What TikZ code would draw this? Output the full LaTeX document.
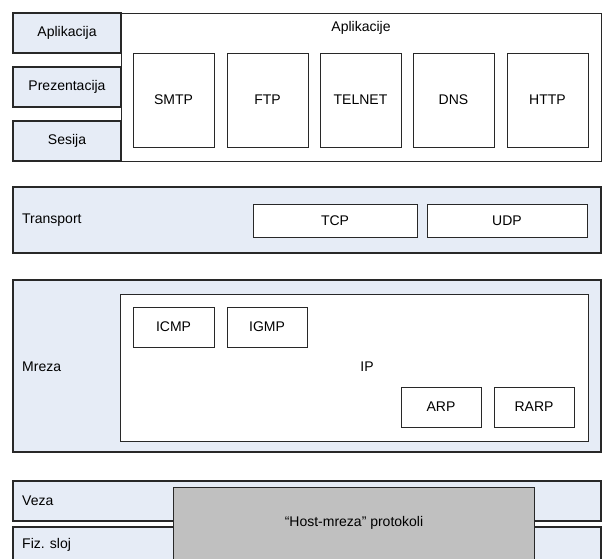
\documentclass[tikz,border=0pt]{standalone}
\usepackage{fontspec}
\setmainfont{Liberation Sans}
\definecolor{layerblue}{RGB}{230,236,246}
\definecolor{hostgray}{RGB}{192,192,192}
\definecolor{edge}{RGB}{40,40,40}
\begin{document}
\begin{tikzpicture}[x=1pt,y=-1pt,
  font=\fontsize{14}{16}\selectfont,
  boxbase/.style={rectangle, inner sep=0pt, outer sep=0pt, anchor=north west},
  layer/.style={boxbase, draw=edge, fill=layerblue, line width=1.1pt},
  group/.style={boxbase, draw=edge, fill=white, line width=1pt},
  proto/.style={boxbase, draw=edge, fill=white, line width=0.9pt},
  hostbox/.style={boxbase, draw=edge, fill=hostgray, line width=1pt},
  lbl/.style={anchor=west, inner sep=0pt}]
\useasboundingbox (0,0) rectangle (606,558);
\clip (0,0) rectangle (606,558);
% Application layers
\node[layer, minimum width=108pt, minimum height=40pt] (apl) at (13,13) {Aplikacija};
\node[layer, minimum width=108pt, minimum height=40pt] (pre) at (13,67) {Prezentacija};
\node[layer, minimum width=108pt, minimum height=40pt] (ses) at (13,121) {Sesija};
\node[group, minimum width=480pt, minimum height=148pt] (appgrp) at (121,13) {};
\node[inner sep=0pt] (apptitle) at (361,28) {Aplikacije};
\node[proto, minimum width=81pt, minimum height=94pt] (smtp) at (133,53) {SMTP};
\node[proto, minimum width=81pt, minimum height=94pt] (ftp) at (227,53) {FTP};
\node[proto, minimum width=81pt, minimum height=94pt] (telnet) at (320,53) {TELNET};
\node[proto, minimum width=81pt, minimum height=94pt] (dns) at (413,53) {DNS};
\node[proto, minimum width=81pt, minimum height=94pt] (http) at (507,53) {HTTP};
% Transport
\node[layer, minimum width=588pt, minimum height=66pt] (trans) at (13,187) {};
\node[lbl] (translbl) at (22,220) {Transport};
\node[proto, minimum width=164pt, minimum height=33pt] (tcp) at (253,204) {TCP};
\node[proto, minimum width=160pt, minimum height=33pt] (udp) at (427,204) {UDP};
% Network
\node[layer, minimum width=588pt, minimum height=172pt] (net) at (13,280) {};
\node[lbl] (netlbl) at (22,367) {Mreza};
\node[group, minimum width=468pt, minimum height=147pt] (ip) at (120,294) {};
\node[inner sep=0pt] (iplbl) at (367,367) {IP};
\node[proto, minimum width=81pt, minimum height=40pt] (icmp) at (133,307) {ICMP};
\node[proto, minimum width=80pt, minimum height=40pt] (igmp) at (227,307) {IGMP};
\node[proto, minimum width=80pt, minimum height=40pt] (arp) at (401,387) {ARP};
\node[proto, minimum width=80pt, minimum height=40pt] (rarp) at (494,387) {RARP};
% Link and physical
\node[layer, minimum width=588pt, minimum height=40pt] (veza) at (13,481) {};
\node[lbl] (vezalbl) at (22,501) {Veza};
\node[layer, minimum width=588pt, minimum height=50pt] (fiz) at (13,527) {};
\node[lbl] (fizlbl) at (22,545) {Fiz. sloj};
\node[hostbox, minimum width=361pt, minimum height=90pt] (host) at (173,487) {};
\node[inner sep=0pt] (hostlbl) at (354,523) {“Host-mreza” protokoli};
\end{tikzpicture}
\end{document}
